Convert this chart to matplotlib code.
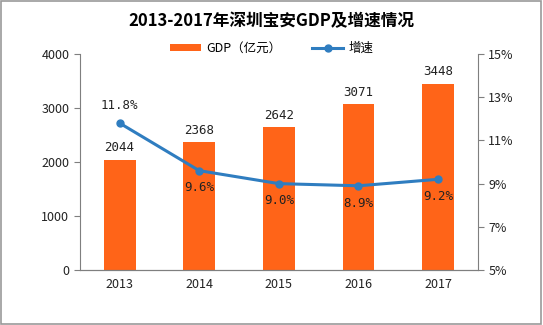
import matplotlib
matplotlib.use("Agg")
import matplotlib.pyplot as plt
from matplotlib.patches import Rectangle

plt.rcParams['font.family'] = ['Noto Sans CJK SC', 'DejaVu Sans']

years = ['2013', '2014', '2015', '2016', '2017']
gdp = [2044, 2368, 2642, 3071, 3448]
growth = [11.8, 9.6, 9.0, 8.9, 9.2]
growth_labels = ['11.8%', '9.6%', '9.0%', '8.9%', '9.2%']

orange = '#FF6418'
blue = '#2F7DC0'
gray = '#7F7F7F'

fig = plt.figure(figsize=(5.43, 3.25), dpi=100)
ax = fig.add_axes([0.147, 0.169, 0.733, 0.665])
ax2 = ax.twinx()

x = range(len(years))
ax.bar(x, gdp, width=0.4, color=orange, zorder=2, label='GDP（亿元）')
for i, v in enumerate(gdp):
    ax.text(i, v + 100, str(v), ha='center', va='bottom', fontsize=9,
            family='DejaVu Sans Mono', color='#222222')

ax2.plot(x, growth, color=blue, lw=2.2, marker='o', ms=5, zorder=3, label='增速')
for i, v in enumerate(growth):
    if i == 0:
        ax2.text(i, v + 0.5, growth_labels[i], ha='center', va='bottom', fontsize=9,
                 family='DejaVu Sans Mono', color='#222222')
    else:
        ax2.text(i, v - 0.5, growth_labels[i], ha='center', va='top', fontsize=9,
                 family='DejaVu Sans Mono', color='#222222')

ax.set_xlim(-0.5, 4.5)
ax.set_ylim(0, 4000)
ax.set_yticks([0, 1000, 2000, 3000, 4000])
ax2.set_ylim(5, 15)
ax2.set_yticks([5, 7, 9, 11, 13, 15])
ax2.set_yticklabels(['5%', '7%', '9%', '11%', '13%', '15%'])
ax.set_xticks(list(x))
ax.set_xticklabels(years)

for a in (ax, ax2):
    a.spines['top'].set_visible(False)
    a.spines['left'].set_color(gray)
    a.spines['right'].set_color(gray)
    a.spines['bottom'].set_color(gray)
    a.tick_params(axis='y', colors=gray, labelcolor='#222222', labelsize=9, length=4)
ax.spines['right'].set_visible(False)
ax2.spines['left'].set_visible(False)
ax.tick_params(axis='x', length=0, labelsize=9, labelcolor='#222222', pad=6)

fig.text(0.5, 0.935, '2013-2017年深圳宝安GDP及增速情况', ha='center', va='center',
         fontsize=12, fontweight='bold')

h1, l1 = ax.get_legend_handles_labels()
h2, l2 = ax2.get_legend_handles_labels()
fig.legend(h1 + h2, l1 + l2, loc='center', bbox_to_anchor=(0.5, 0.85), ncol=2,
           frameon=False, fontsize=9, handlelength=2.5, handleheight=0.5,
           columnspacing=2.5, handletextpad=0.4)

fig.patches.append(Rectangle((0.002, 0.003), 0.995, 0.994, transform=fig.transFigure,
                             fill=False, edgecolor='#999999', lw=1.2))

fig.savefig('out.png', dpi=100)
